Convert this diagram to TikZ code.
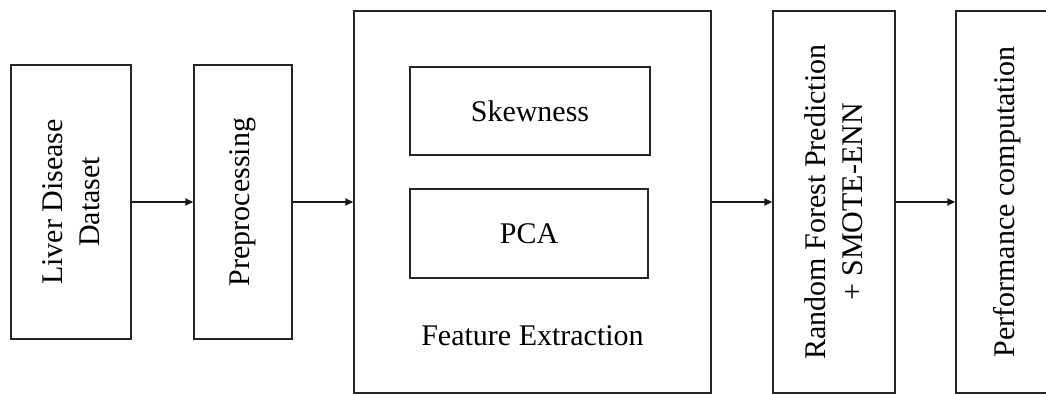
\documentclass[tikz,border=0pt]{standalone}
\usepackage{fontspec}
\setmainfont{Liberation Serif}
\usetikzlibrary{arrows.meta}
\begin{document}
\begin{tikzpicture}[x=0.5pt,y=-0.5pt,
  every node/.style={font=\fontsize{15}{18.5}\selectfont},
  blk/.style={draw=black!85, line width=0.75pt, inner sep=0pt, align=center},
  vblk/.style={blk, rotate=90},
  conn/.style={draw=black!90, line width=0.75pt, -{Triangle[length=4pt,width=3.6pt]}}]
\useasboundingbox (0,0) rectangle (1046,394);
\node[vblk, minimum width=137pt, minimum height=60pt] (ld) at (71,202) {Liver Disease\\Dataset};
\node[vblk, minimum width=137pt, minimum height=49pt] (pp) at (243,202) {Preprocessing};
\node[blk, minimum width=178.5pt, minimum height=191pt] (fe) at (532.5,202) {};
\node[blk, minimum width=120pt, minimum height=44pt] (sk) at (530,111) {Skewness};
\node[blk, minimum width=119pt, minimum height=44.5pt] (pca) at (529,233.5) {PCA};
\node[inner sep=0pt] (fet) at (532.5,336) {Feature Extraction};
\node[vblk, minimum width=191pt, minimum height=61pt] (rf) at (834,202) {Random Forest Prediction\\+ SMOTE-ENN};
\node[vblk, minimum width=191pt, minimum height=51pt] (pc) at (1007,202) {Performance computation};
\draw[conn] (ld.south) -- (pp.north);
\draw[conn] (pp.south) -- (pp.south -| fe.west);
\draw[conn] (rf.north -| fe.east) -- (rf.north);
\draw[conn] (rf.south) -- (pc.north);
\end{tikzpicture}
\end{document}
